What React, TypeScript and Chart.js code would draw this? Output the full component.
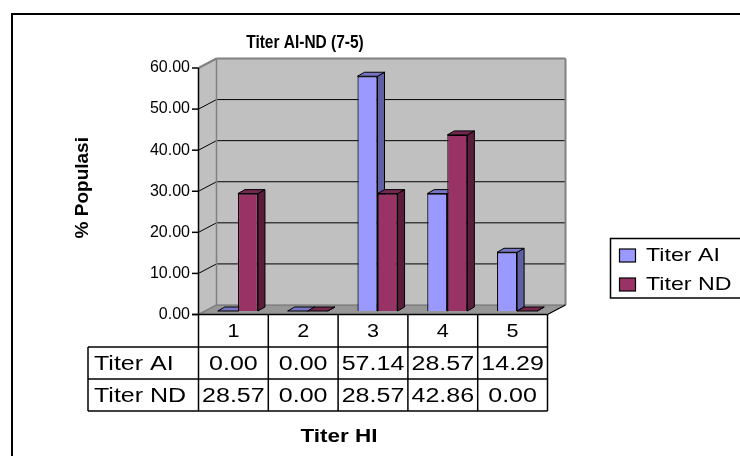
import React, { useEffect, useRef } from "react";
import { Chart, registerables } from "chart.js";

Chart.register(...registerables);

// ---- data ----
const categories = ["1", "2", "3", "4", "5"];
const titerAI = [0.0, 0.0, 57.14, 28.57, 14.29];
const titerND = [28.57, 0.0, 28.57, 42.86, 0.0];
const seriesNames = ["Titer AI", "Titer ND"];
const yTicks = [0, 10, 20, 30, 40, 50, 60];
const chartTitle = "Titer AI-ND (7-5)";
const xTitle = "Titer HI";
const yTitle = "% Populasi";

// ---- styles ----
const FONT = "'Liberation Sans', Arial, sans-serif";
const FRONT = { dx: -4.5, dy: 3.5 };
const BACK = { dx: 13.5, dy: -6 };
const BAR_DEPTH = { dx: 7, dy: -4 };
const FRONT_COLORS = ["#9999FF", "#993366"];
const SIDE_COLORS = ["#5F5FA3", "#5A1E3C"];
const TOP_COLORS = ["#7676C4", "#74284F"];

function txt(ctx: CanvasRenderingContext2D, s: string, x: number, y: number, font: string, sx: number, align: CanvasTextAlign) {
  ctx.save();
  ctx.font = font;
  ctx.fillStyle = "#000";
  ctx.textBaseline = "middle";
  ctx.textAlign = align;
  ctx.translate(x, y);
  ctx.scale(sx, 1);
  ctx.fillText(s, 0, 0);
  ctx.restore();
}

function poly(ctx: CanvasRenderingContext2D, pts: number[][], fill: string | null, stroke: string | null, lw = 1) {
  ctx.beginPath();
  pts.forEach((p, i) => (i ? ctx.lineTo(p[0], p[1]) : ctx.moveTo(p[0], p[1])));
  ctx.closePath();
  if (fill) {
    ctx.fillStyle = fill;
    ctx.fill();
  }
  if (stroke) {
    ctx.strokeStyle = stroke;
    ctx.lineWidth = lw;
    ctx.stroke();
  }
}

function line(ctx: CanvasRenderingContext2D, x1: number, y1: number, x2: number, y2: number, color: string, lw = 1) {
  ctx.beginPath();
  ctx.moveTo(x1, y1);
  ctx.lineTo(x2, y2);
  ctx.strokeStyle = color;
  ctx.lineWidth = lw;
  ctx.stroke();
}

const plot3d = {
  id: "plot3d",
  beforeDatasetsDraw(chart: any) {
    const { ctx, chartArea: ca, scales } = chart;
    const y = scales.y;
    const yv = (v: number) => y.getPixelForValue(v);
    const yMax = yTicks[yTicks.length - 1];
    const fL = ca.left + FRONT.dx, fR = ca.right + FRONT.dx;
    const bL = ca.left + BACK.dx, bR = ca.right + BACK.dx;
    const f0 = yv(0) + FRONT.dy, fTop = yv(yMax) + FRONT.dy;
    const b0 = yv(0) + BACK.dy, bTop = yv(yMax) + BACK.dy;
    ctx.save();
    // side wall
    poly(ctx, [[fL, f0], [fL, fTop], [bL, bTop], [bL, b0]], "#C0C0C0", null);
    // back wall
    poly(ctx, [[bL, bTop], [bR, bTop], [bR, b0], [bL, b0]], "#C0C0C0", null);
    // floor
    poly(ctx, [[fL, f0], [fR, f0], [bR, b0], [bL, b0]], "#979797", null);
    // gridlines
    yTicks.forEach((v) => {
      if (v === 0 || v === yMax) return;
      line(ctx, bL, yv(v) + BACK.dy, bR, yv(v) + BACK.dy, "#000", 1);
      line(ctx, fL, yv(v) + FRONT.dy, bL, yv(v) + BACK.dy, "#000", 1);
    });
    // wall borders
    const g = "#808080";
    line(ctx, fL, fTop, bL, bTop, g, 2);
    line(ctx, bL, bTop, bR, bTop, g, 2);
    line(ctx, bR, bTop, bR, b0, g, 2);
    line(ctx, bL, bTop, bL, b0, g, 1.5);
    line(ctx, bL, b0, bR, b0, "#6a6a6a", 1);
    line(ctx, fL, f0, bL, b0, g, 1.5);
    // front axis
    line(ctx, fL, fTop, fL, f0, "#000", 1.5);
    yTicks.forEach((v) => line(ctx, fL - 6.5, yv(v) + FRONT.dy, fL, yv(v) + FRONT.dy, "#000", 1.5));
    line(ctx, fL - 6.5, f0, fR, f0, "#000", 1.5);
    line(ctx, fR, f0, bR, b0, "#000", 1.2);

    // bar extrusions (side + top), category by category
    const metas = chart.data.datasets.map((_: any, i: number) => chart.getDatasetMeta(i));
    for (let j = 0; j < categories.length; j++) {
      metas.forEach((meta: any, i: number) => {
        const el = meta.data[j];
        if (!el) return;
        const p = el.getProps(["x", "y", "base", "width"], true);
        const l = p.x - p.width / 2, r = p.x + p.width / 2;
        const t = Math.min(p.y, p.base), b = Math.max(p.y, p.base);
        const dx = BAR_DEPTH.dx, dy = BAR_DEPTH.dy;
        poly(ctx, [[r, t], [r + dx, t + dy], [r + dx, b + dy], [r, b]], SIDE_COLORS[i], "#000", 1);
        poly(ctx, [[l, t], [l + dx, t + dy], [r + dx, t + dy], [r, t]], TOP_COLORS[i], "#000", 1);
      });
    }
    ctx.restore();
  },
  afterDraw(chart: any) {
    const { ctx, chartArea: ca, scales } = chart;
    const x = scales.x, y = scales.y;
    const fL = ca.left + FRONT.dx, fR = ca.right + FRONT.dx;
    const f0 = y.getPixelForValue(0) + FRONT.dy;
    const half = (fR - fL) / (2 * categories.length);
    const r0 = f0, r1 = f0 + 32.5, r2 = r1 + 32, r3 = r2 + 32;
    const labelLeft = 88;
    ctx.save();
    // table lines
    line(ctx, fL, r0, fL, r3, "#000", 1.5);
    categories.forEach((_, j) => {
      const cx = x.getPixelForValue(j) + FRONT.dx;
      line(ctx, cx + half, r0, cx + half, r3, "#000", 1.5);
    });
    line(ctx, labelLeft, r1, labelLeft, r3, "#000", 1.5);
    [r1, r2, r3].forEach((ry) => line(ctx, labelLeft, ry, fR, ry, "#000", 1.5));
    // table text
    const rows = [titerAI, titerND];
    categories.forEach((c, j) => {
      const cx = x.getPixelForValue(j) + FRONT.dx;
      txt(ctx, c, cx, (r0 + r1) / 2 + 1, `18px ${FONT}`, 1.2, "center");
      rows.forEach((row, i) => {
        const ry = i === 0 ? (r1 + r2) / 2 : (r2 + r3) / 2;
        txt(ctx, row[j].toFixed(2), cx, ry + 1, `20px ${FONT}`, 1.25, "center");
      });
    });
    seriesNames.forEach((n, i) => {
      const ry = i === 0 ? (r1 + r2) / 2 : (r2 + r3) / 2;
      txt(ctx, n, labelLeft + 6, ry + 1, `20px ${FONT}`, 1.25, "left");
    });
    // x title
    txt(ctx, xTitle, 339, 437, `bold 18px ${FONT}`, 1.25, "center");
    // chart title
    txt(ctx, chartTitle, 305, 43, `bold 18px ${FONT}`, 0.86, "center");
    // legend
    ctx.lineWidth = 1.5;
    ctx.strokeStyle = "#000";
    ctx.strokeRect(610.5, 238.5, 145, 59.5);
    seriesNames.forEach((n, i) => {
      const ly = i === 0 ? 255.5 : 284.5;
      ctx.fillStyle = FRONT_COLORS[i];
      ctx.fillRect(619.5, ly - 6.5, 16, 13);
      ctx.lineWidth = 1.2;
      ctx.strokeRect(619.5, ly - 6.5, 16, 13);
      txt(ctx, n, 646, ly, `19px ${FONT}`, 1.22, "left");
    });
    // outer border
    ctx.lineWidth = 2;
    ctx.strokeStyle = "#000";
    ctx.strokeRect(12, 14, 760, 470);
    ctx.restore();
  },
};

export default function App() {
  const ref = useRef<HTMLCanvasElement | null>(null);
  useEffect(() => {
    if (!ref.current) return;
    const chart = new Chart(ref.current, {
      type: "bar",
      data: {
        labels: categories,
        datasets: [
          {
            label: seriesNames[0],
            data: titerAI,
            backgroundColor: FRONT_COLORS[0],
            borderColor: "#000",
            borderWidth: 1.2,
            barPercentage: 1,
            categoryPercentage: 0.575,
          },
          {
            label: seriesNames[1],
            data: titerND,
            backgroundColor: FRONT_COLORS[1],
            borderColor: "#000",
            borderWidth: 1.2,
            barPercentage: 1,
            categoryPercentage: 0.575,
          },
        ],
      },
      options: {
        responsive: false,
        animation: false,
        devicePixelRatio: 1,
        layout: { padding: { left: 53, right: 188, top: 64.5, bottom: 145 } },
        plugins: {
          legend: { display: false },
          tooltip: { enabled: false },
          title: { display: false },
        },
        scales: {
          x: { display: false },
          y: {
            min: 0,
            max: 60,
            afterBuildTicks: (s: any) => {
              s.ticks = yTicks.map((v) => ({ value: v }));
            },
            afterFit: (s: any) => {
              s.width = 150;
            },
            grid: { display: false, drawTicks: false },
            border: { display: false },
            ticks: {
              padding: 13,
              labelOffset: 3.5,
              color: "#000",
              font: { family: FONT, size: 16 },
              callback: (v: any) => Number(v).toFixed(2),
            },
            title: {
              display: true,
              text: yTitle,
              color: "#000",
              font: { family: FONT, size: 19, weight: "bold" },
              padding: { top: 18.5, bottom: 0 },
            },
          },
        },
      },
      plugins: [plot3d],
    });
    return () => chart.destroy();
  }, []);
  return (
    <div style={{ position: "absolute", left: 0, top: 0, width: 740, height: 456, background: "#fff" }}>
      <canvas ref={ref} width={740} height={456} style={{ display: "block" }} />
    </div>
  );
}
